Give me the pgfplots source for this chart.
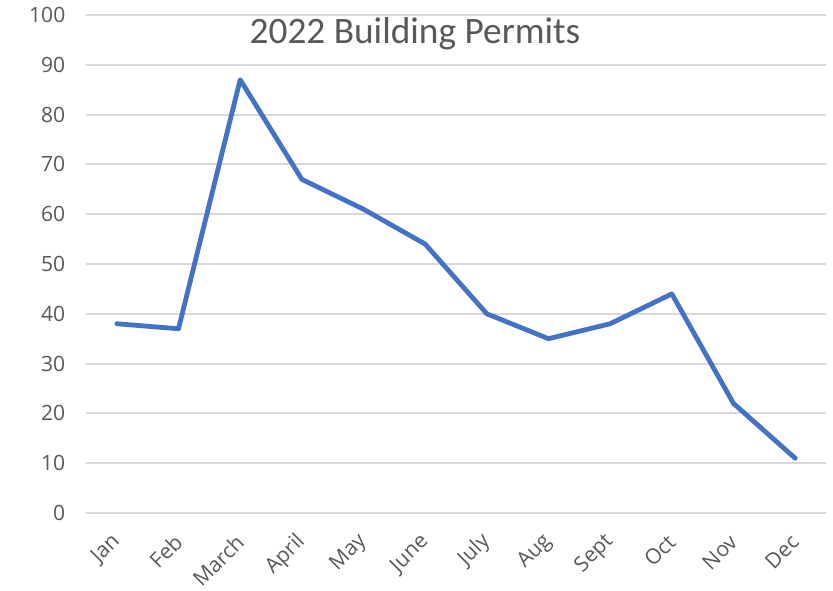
\documentclass[border=0pt]{standalone}
\usepackage{pgfplots}
\pgfplotsset{compat=1.18}
\usepackage{fontspec}
\setmainfont{Open Sans}
\newfontfamily\titlefont{Carlito}
\definecolor{linec}{HTML}{4472C4}
\definecolor{gridc}{HTML}{D9D9D9}
\definecolor{textc}{HTML}{595959}
\begin{document}
\begin{tikzpicture}
\path[use as bounding box] (0pt,0pt) rectangle (624.75pt,442.5pt);
\begin{axis}[
  at={(64.5pt,57.75pt)}, anchor=south west,
  scale only axis, width=555pt, height=373.5pt,
  xmin=-0.5, xmax=11.5, ymin=0, ymax=100,
  xtick={0,...,11},
  xticklabels={Jan,Feb,March,April,May,June,July,Aug,Sept,Oct,Nov,Dec},
  ytick={0,10,...,100},
  ymajorgrids, grid style={gridc, line width=1.5pt},
  axis line style={draw=none},
  major tick length=0pt,
  tick label style={font=\fontsize{15.8}{18}\selectfont, text=textc},
  x tick label style={yshift=-19pt, xshift=0pt, rotate=45, anchor=east, inner sep=0pt},
  y tick label style={xshift=-12pt},
  /pgf/number format/assume math mode=true,
  clip=false,
]
\addplot[linec, line width=3.6pt, line join=round, line cap=round] coordinates {
  (0,38) (1,37) (2,87) (3,67) (4,61) (5,54) (6,40) (7,35) (8,38) (9,44) (10,22) (11,11)
};
\end{axis}
\node[text=textc, font=\titlefont\fontsize{28}{32}\selectfont] at (311.25pt,417pt) {2022 Building Permits};
\end{tikzpicture}
\end{document}
